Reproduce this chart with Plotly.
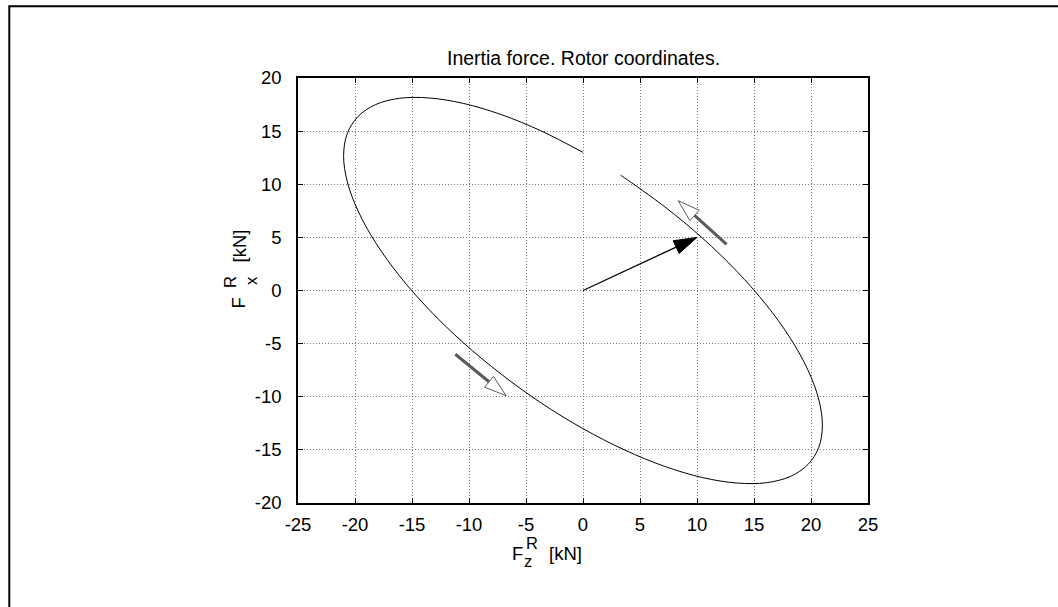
import math
import plotly.graph_objects as go

# ---- data -----------------------------------------------------------------
title_text = "Inertia force. Rotor coordinates."

# Inertia force locus in rotor coordinates [kN]
fz = [0.0, -3.65, -7.18, -10.5, -13.5, -16.09, -18.19, -19.73, -20.68, -21.0,
      -20.68, -19.73, -18.19, -16.09, -13.5, -10.5, -7.18, -3.65, 0.0,
      3.65, 7.18, 10.5, 13.5, 16.09, 18.19, 19.73, 20.68, 21.0,
      20.68, 19.73, 18.19, 16.09, 13.5, 10.5, 7.18, 3.65, 3.3]
fx = [13.0, 15.01, 16.56, 17.61, 18.12, 18.09, 17.5, 16.38, 14.77, 12.7,
      10.25, 7.48, 4.5, 1.37, -1.8, -4.91, -7.87, -10.6, -13.0,
      -15.01, -16.56, -17.61, -18.12, -18.09, -17.5, -16.38, -14.77, -12.7,
      -10.25, -7.48, -4.5, -1.37, 1.8, 4.91, 7.87, 10.6, 10.85]

# current force vector (tail, tip)
force_tail = (0.0, 0.0)
force_tip = (10.0, 5.0)

# direction-of-rotation markers (tail, tip)
rot_arrows = [((12.6, 4.35), (8.35, 8.45)),
              ((-11.2, -6.0), (-6.75, -9.9))]

x_ticks = [-25, -20, -15, -10, -5, 0, 5, 10, 15, 20, 25]
y_ticks = [-20, -15, -10, -5, 0, 5, 10, 15, 20]
x_ticktext = [str(v) for v in x_ticks]
y_ticktext = [str(v) for v in y_ticks]

# ---- geometry -------------------------------------------------------------
W, H = 1058, 607
ML, MR, MT, MB = 298, 190, 78, 104
PW, PH = W - ML - MR, H - MT - MB
XR, YR = [-25, 25], [-20, 20]
kx = PW / (XR[1] - XR[0])   # px per kN, horizontal
ky = PH / (YR[1] - YR[0])   # px per kN, vertical

FONT = "Liberation Sans, Arial, Helvetica, sans-serif"
GRAY = "#5a5a5a"
TICK_SIZE = 18.5


def paper(px, py):
    """Pixel position in the page -> paper coordinates."""
    return (px - ML) / PW, (MT + PH - py) / PH


def arrow_head(tail, tip, length=22.0, half=7.0):
    """Triangle head (in data units) with a fixed on-screen size."""
    dx = (tip[0] - tail[0]) * kx
    dy = (tip[1] - tail[1]) * ky
    n = math.hypot(dx, dy)
    ux, uy = dx / n, dy / n
    bx = tip[0] - length * ux / kx
    by = tip[1] - length * uy / ky
    px_, py_ = -uy, ux
    c1 = (bx + half * px_ / kx, by + half * py_ / ky)
    c2 = (bx - half * px_ / kx, by - half * py_ / ky)
    xs = [tip[0], c1[0], c2[0], tip[0]]
    ys = [tip[1], c1[1], c2[1], tip[1]]
    return xs, ys, (bx, by)


fig = go.Figure()

# locus
fig.add_trace(go.Scatter(x=fz, y=fx, mode="lines",
                         line=dict(color="black", width=1, shape="spline"),
                         hoverinfo="skip", showlegend=False))

# force vector
hx, hy, base = arrow_head(force_tail, force_tip, 23, 7)
fig.add_trace(go.Scatter(x=[force_tail[0], base[0]], y=[force_tail[1], base[1]],
                         mode="lines", line=dict(color="black", width=1.3),
                         hoverinfo="skip", showlegend=False))
fig.add_trace(go.Scatter(x=hx, y=hy, mode="lines", fill="toself",
                         fillcolor="black", line=dict(color="black", width=1),
                         hoverinfo="skip", showlegend=False))

# rotation direction markers
for tail, tip in rot_arrows:
    hx, hy, base = arrow_head(tail, tip, 22, 7)
    fig.add_trace(go.Scatter(x=[tail[0], base[0]], y=[tail[1], base[1]],
                             mode="lines", line=dict(color=GRAY, width=3),
                             hoverinfo="skip", showlegend=False))
    fig.add_trace(go.Scatter(x=hx, y=hy, mode="lines", fill="toself",
                             fillcolor="white", line=dict(color=GRAY, width=1),
                             hoverinfo="skip", showlegend=False))

axis_common = dict(
    showline=True, linecolor="black", linewidth=1.5, mirror="ticks",
    ticks="inside", ticklen=5, tickcolor="black", tickwidth=1,
    showgrid=True, gridcolor="#7a7a7a", gridwidth=1, griddash="1px,2px",
    zeroline=False, tickfont=dict(family=FONT, size=TICK_SIZE, color="black"),
)

fig.update_xaxes(range=XR, tickmode="array", tickvals=x_ticks,
                 ticktext=x_ticktext, ticklabelstandoff=4, **axis_common)
fig.update_yaxes(range=YR, tickmode="array", tickvals=y_ticks,
                 ticktext=y_ticktext, ticklabelstandoff=11, **axis_common)

annotations = []


def label(text, px, py, size, angle=0):
    x, y = paper(px, py)
    annotations.append(dict(text=text, x=x, y=y, xref="paper", yref="paper",
                            xanchor="center", yanchor="middle", showarrow=False,
                            textangle=angle,
                            font=dict(family=FONT, size=size, color="black")))


# title
label(title_text, 583, 58, 19.5)

# x-axis label: F with stacked super/subscript
label("F", 517, 553, 18.5)
label("R", 531.5, 542.5, 16.5)
label("z", 528, 560.5, 16.5)
label("[kN]", 565.5, 553.5, 18.5)

# y-axis label (rotated)
label("F", 238, 303.5, 18.5, -90)
label("R", 229.5, 282.5, 16.5, -90)
label("x", 251, 281, 16.5, -90)
label("[kN]", 239, 246.5, 18.5, -90)

# outer frame
fx0, fy0 = paper(9.3, 6.3)
fx1, fy1 = paper(W + 10, H + 10)

fig.update_layout(
    width=W, height=H, autosize=False,
    margin=dict(l=ML, r=MR, t=MT, b=MB),
    paper_bgcolor="white", plot_bgcolor="white",
    showlegend=False,
    annotations=annotations,
    shapes=[dict(type="rect", xref="paper", yref="paper",
                 x0=fx0, y0=fy1, x1=fx1, y1=fy0,
                 line=dict(color="black", width=2), layer="above")],
)

fig.write_html("out.html")
